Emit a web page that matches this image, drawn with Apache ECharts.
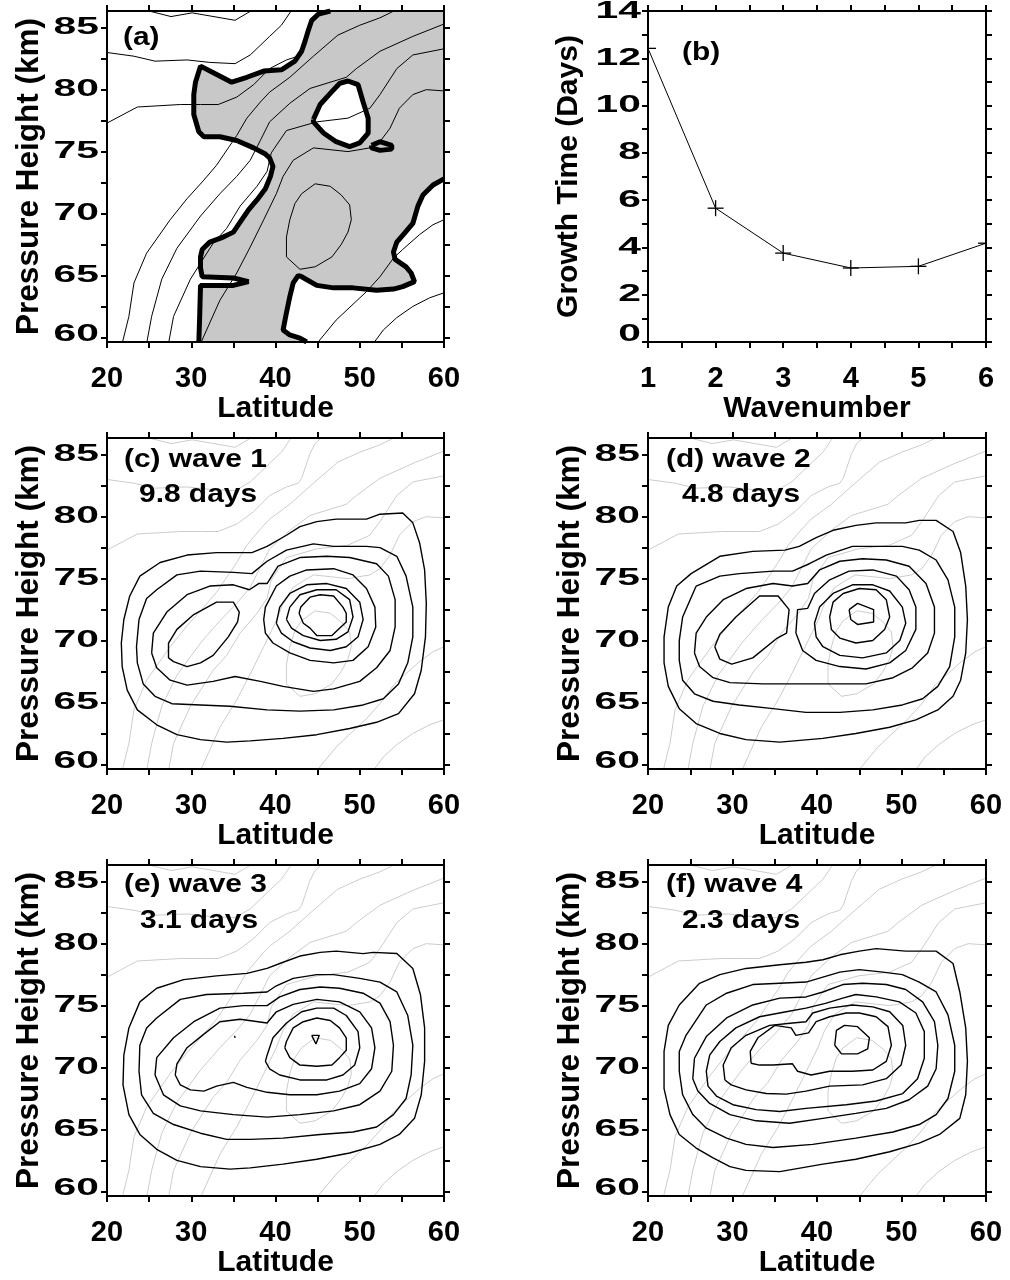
<!DOCTYPE html>
<html>
<head>
<meta charset="utf-8">
<script src="https://cdn.jsdelivr.net/npm/echarts@6/dist/echarts.min.js"></script>
<style>
html, body { margin: 0; padding: 0; background: #fff; }
#chart { width: 1010px; height: 1280px; }
</style>
</head>
<body>
<div id="chart"></div>
<script>
// ---- axis ticks and labels ----
const heightLabels = [60, 65, 70, 75, 80, 85];
const heightTicks = [60, 62.5, 65, 67.5, 70, 72.5, 75, 77.5, 80, 82.5, 85];
const growthLabels = [0, 2, 4, 6, 8, 10, 12, 14];

// ---- (b) growth time against wavenumber ----
const wavenumbers = [1, 2, 3, 4, 5, 6];
const growthDays = [12.42, 5.66, 3.76, 3.13, 3.20, 4.18];

// ---- background field contours [latitude, height] ----
const bg1 = [[24.7, 86.4], [27.6, 85.9], [30.1, 86.2], [35.2, 85.6], [37.2, 86.4]];
const bg2 = [[20, 83.0], [23.2, 82.7], [25.7, 82.3], [29.5, 82.4], [32.2, 82.2], [35.2, 82.1], [37.0, 82.8], [39.3, 84.3], [40.7, 85.2], [41.9, 86.4]];
const bg3 = [[20, 77.3], [23.6, 78.6], [28.7, 78.8], [31.1, 78.8], [33.2, 78.8], [35.4, 79.4], [37.4, 80.4], [39.3, 81.7], [41.3, 82.4], [42.7, 82.7], [43.1, 83.1], [43.5, 83.9], [44.1, 85.1], [44.7, 85.9], [45.5, 86.4]];
const bg4 = [[21.8, 59.5], [22.6, 61.7], [23.2, 64.4], [24.7, 66.8], [27.5, 69.5], [29.5, 71.2], [31.5, 72.7], [33.0, 73.9], [34.4, 75.3], [35.4, 76.3], [36.6, 77.7], [38.2, 79.0], [39.3, 79.8], [41.7, 81.0], [44.5, 82.7], [47.4, 84.4], [50.0, 85.2], [52.4, 85.8], [54.2, 86.4]];
const bg5 = [[24.7, 59.5], [25.3, 61.7], [26.5, 64.7], [28.3, 67.2], [31.1, 69.8], [33.4, 71.6], [35.4, 73.0], [37.0, 74.3], [38.2, 75.9], [39.3, 77.4], [41.7, 78.9], [44.1, 80.1], [48.4, 81.0], [49.6, 81.7], [52.4, 83.1], [56.3, 84.3], [60, 85.3]];
const bg6 = [[27.3, 59.5], [27.9, 61.7], [29.9, 64.7], [31.1, 66.0], [32.6, 67.6], [34.2, 68.8], [35.8, 70.6], [37.8, 72.2], [39.0, 73.4], [39.5, 74.9], [41.3, 76.7], [44.9, 77.4], [48.6, 77.7], [51.2, 78.5], [52.4, 79.6], [54.4, 81.7], [56.3, 82.8], [60, 83.3]];
const bg7 = [[31.1, 59.5], [33.4, 63.0], [35.4, 65.2], [37.0, 67.3], [38.6, 69.5], [40.1, 71.6], [40.9, 73.0], [42.1, 74.3], [44.5, 75.3], [48.6, 75.0], [51.2, 75.3], [52.4, 75.8], [53.6, 76.9], [54.7, 78.5], [56.3, 79.6], [57.9, 80.0], [60, 79.9]];
const bg8 = [[42.9, 65.5], [41.3, 66.5], [41.3, 68.1], [41.7, 69.5], [42.3, 70.8], [43.1, 71.6], [44.7, 72.4], [46.5, 72.2], [47.8, 71.5], [48.8, 70.7], [49.0, 69.5], [48.6, 68.5], [47.8, 67.5], [46.7, 66.5], [44.7, 65.7], [42.9, 65.5]];
const bg9 = [[44.9, 59.5], [47.2, 61.4], [50.8, 63.7], [52.4, 64.9], [54.0, 66.4], [55.1, 67.1], [57.1, 68.3], [58.7, 69.1], [60, 69.5]];
const bg10 = [[51.6, 59.5], [52.8, 60.6], [54.4, 61.6], [56.3, 62.5], [58.3, 63.2], [60, 63.6]];
const backgroundContours = [bg1, bg2, bg3, bg4, bg5, bg6, bg7, bg8, bg9, bg10];

// ---- (a) zero growth line: western branch (bottom to top) ----
const zeroWest = [[30.9, 59.63], [31.0, 61.7], [31.1, 64.2], [35.0, 64.2], [36.8, 64.5], [35.0, 64.8], [31.3, 64.9], [31.1, 65.6], [31.1, 66.5], [31.3, 67.1], [32.2, 67.7], [33.8, 68.1], [35.0, 68.5], [35.6, 69.1], [36.8, 70.3], [37.8, 71.1], [38.8, 72.0], [39.4, 73.0], [39.7, 73.8], [39.3, 74.5], [38.8, 74.8], [37.4, 75.3], [35.4, 75.9], [33.4, 76.2], [31.5, 76.2], [30.9, 76.6], [30.3, 78.0], [30.3, 79.6], [30.5, 80.6], [31.1, 81.9], [31.3, 82.0], [32.8, 81.3], [34.8, 80.6], [36.6, 81.0], [38.6, 81.5], [40.7, 81.6], [42.3, 82.3], [43.1, 83.1], [43.5, 83.9], [43.9, 84.8], [44.3, 85.6], [45.1, 86.1], [46.5, 86.35]];
// eastern branch (right edge to bottom)
const zeroEast = [[60, 72.8], [58.7, 72.3], [57.5, 71.5], [56.9, 70.6], [56.3, 69.2], [55.3, 68.4], [54.4, 67.7], [54.0, 66.9], [54.2, 66.3], [55.5, 65.7], [56.1, 65.2], [56.5, 64.5], [55.1, 64.1], [54.0, 63.9], [52.0, 63.8], [49.2, 64.0], [46.9, 64.0], [44.9, 64.2], [43.1, 64.9], [42.7, 65.0], [42.1, 64.4], [41.7, 63.3], [41.3, 62.0], [40.9, 60.6], [41.7, 60.2], [42.9, 59.95], [43.7, 59.63]];
const upperCorner = [[60, 86.35]];
const zeroHole = [[44.5, 77.6], [45.3, 78.8], [46.5, 79.7], [47.6, 80.5], [48.6, 80.7], [49.8, 80.4], [50.4, 79.0], [51.0, 77.7], [51.0, 76.5], [50.0, 75.7], [48.8, 75.4], [47.2, 75.8], [45.7, 76.5], [44.5, 77.4], [44.5, 77.6]];
const zeroSpot = [[51.4, 75.5], [52.4, 75.8], [53.8, 75.5], [53.8, 75.2], [52.4, 75.1], [51.4, 75.3], [51.4, 75.5]];

// ---- (c) wave 1 amplitude contours ----
const w1L1 = [[23.9, 75.2], [26.3, 76.3], [29.5, 76.9], [33.0, 77.1], [37.2, 77.1], [39.0, 77.6], [41.3, 78.5], [42.9, 79.2], [44.9, 79.6], [47.2, 79.8], [50.8, 79.8], [52.4, 80.2], [55.1, 80.3], [56.3, 79.5], [57.1, 77.9], [57.7, 75.7], [57.9, 73.0], [57.8, 70.3], [57.3, 67.6], [56.5, 65.7], [54.6, 64.1], [52.0, 63.4], [48.8, 62.9], [44.9, 62.4], [40.9, 62.1], [37.0, 61.9], [34.2, 61.8], [31.1, 62.0], [28.3, 62.4], [25.9, 63.2], [23.6, 64.4], [22.4, 66.0], [21.8, 67.9], [21.7, 69.8], [22.0, 71.7], [22.7, 73.6], [23.9, 75.2]];
const w1L2 = [[25.9, 74.1], [28.3, 75.3], [31.1, 75.6], [35.0, 75.5], [37.2, 75.4], [39.0, 76.4], [41.3, 77.3], [44.5, 77.8], [46.9, 77.6], [50.8, 77.6], [52.4, 77.5], [54.4, 76.8], [55.5, 75.2], [56.3, 72.7], [56.3, 70.3], [55.7, 68.2], [54.6, 66.5], [52.8, 65.3], [50.4, 64.8], [46.9, 64.4], [42.9, 64.3], [39.0, 64.4], [34.6, 64.7], [31.1, 64.8], [27.7, 64.9], [25.7, 65.5], [24.3, 66.5], [23.6, 68.2], [23.5, 69.5], [23.8, 71.7], [24.7, 73.4], [25.9, 74.1]];
const w1L3 = [[25.3, 69.0], [25.5, 70.6], [27.1, 72.3], [29.5, 73.7], [32.2, 74.4], [35.0, 74.5], [36.9, 74.1], [38.0, 74.6], [39.0, 74.6], [40.3, 76.0], [42.9, 76.7], [46.1, 76.8], [48.8, 76.7], [52.0, 76.2], [53.4, 75.2], [54.2, 73.3], [54.2, 71.1], [53.6, 69.2], [52.0, 67.8], [50.0, 66.7], [46.9, 66.1], [44.5, 65.9], [40.9, 66.3], [38.2, 66.7], [35.2, 67.1], [32.6, 66.7], [29.5, 66.4], [27.5, 66.8], [25.9, 67.8], [25.3, 69.0]];
const w1L4a = [[27.3, 68.6], [27.3, 69.8], [28.3, 70.9], [30.3, 72.1], [33.0, 73.1], [35.0, 73.1], [35.7, 72.3], [35.5, 71.5], [34.4, 70.3], [32.6, 68.8], [31.1, 68.2], [29.5, 67.9], [27.9, 68.3], [27.3, 68.6]];
const w1L4b = [[38.6, 71.7], [38.8, 72.7], [40.1, 74.4], [41.7, 75.2], [43.7, 75.7], [46.9, 75.8], [49.2, 75.3], [50.8, 74.2], [51.8, 72.7], [51.9, 71.1], [51.0, 69.5], [49.2, 68.4], [46.9, 68.2], [44.1, 68.4], [41.7, 69.0], [39.7, 69.8], [38.8, 70.6], [38.6, 71.7]];
const w1L5 = [[40.1, 71.4], [40.5, 72.7], [41.7, 73.8], [43.7, 74.5], [46.1, 74.6], [48.4, 74.2], [50.0, 73.1], [50.4, 71.7], [49.8, 70.3], [48.4, 69.5], [46.5, 69.2], [44.1, 69.4], [42.1, 69.9], [40.7, 70.6], [40.1, 71.4]];
const w1L6 = [[41.3, 71.7], [41.7, 72.7], [42.9, 73.7], [44.9, 74.1], [47.2, 74.1], [48.8, 73.3], [49.2, 71.9], [48.6, 70.7], [47.2, 70.1], [45.3, 70.0], [43.3, 70.4], [41.9, 71.0], [41.3, 71.7]];
const w1L7 = [[42.8, 72.2], [43.0, 72.7], [44.1, 73.5], [45.3, 73.7], [46.9, 73.6], [48.0, 72.7], [48.4, 72.2], [48.4, 71.5], [47.6, 71.0], [46.7, 70.4], [44.9, 70.4], [44.1, 71.0], [43.3, 71.4], [42.8, 72.2]];

// ---- (d) wave 2 amplitude contours ----
const w2L1 = [[25.1, 75.4], [28.5, 76.8], [32.4, 77.2], [36.2, 77.3], [37.9, 77.6], [39.9, 78.3], [41.9, 78.9], [44.6, 79.3], [47.0, 79.5], [50.5, 79.5], [52.1, 79.7], [54.1, 79.7], [56.1, 78.8], [57.0, 77.1], [57.6, 74.4], [57.8, 71.7], [57.6, 69.0], [57.0, 66.8], [56.1, 65.5], [54.3, 64.4], [51.7, 63.6], [48.6, 63.0], [44.6, 62.5], [40.7, 62.1], [35.6, 61.8], [31.6, 62.0], [28.5, 62.5], [25.7, 63.3], [23.7, 64.5], [22.4, 66.3], [21.9, 68.2], [21.9, 70.3], [22.4, 72.7], [23.4, 74.4], [25.1, 75.4]];
const w2L2 = [[25.7, 74.4], [28.5, 75.2], [30.8, 75.4], [34.8, 75.6], [37.1, 75.6], [39.1, 76.2], [41.1, 76.9], [44.2, 77.6], [46.6, 77.6], [50.1, 77.6], [52.1, 77.3], [54.1, 76.5], [55.5, 74.9], [56.3, 72.7], [56.3, 70.3], [55.7, 67.9], [54.3, 66.3], [52.5, 65.3], [50.1, 64.8], [46.6, 64.4], [42.7, 64.2], [38.7, 64.2], [34.8, 64.5], [30.8, 64.8], [27.7, 65.1], [25.5, 65.7], [24.1, 66.8], [23.7, 68.4], [23.7, 70.0], [24.1, 71.9], [25.7, 74.4]];
const w2L3 = [[25.5, 69.0], [25.7, 70.6], [26.9, 71.9], [28.9, 73.3], [31.6, 74.2], [34.8, 74.6], [37.1, 74.4], [38.9, 74.6], [40.3, 75.7], [42.7, 76.4], [45.4, 76.6], [48.2, 76.5], [50.9, 76.0], [52.9, 74.6], [53.9, 72.7], [53.9, 70.6], [53.1, 69.0], [51.3, 67.8], [49.0, 67.0], [45.8, 66.5], [41.9, 66.5], [37.9, 66.5], [33.6, 66.5], [29.7, 66.6], [27.7, 67.0], [26.1, 67.9], [25.5, 69.0]];
const w2L4a = [[27.9, 69.5], [28.5, 70.5], [30.4, 71.9], [33.2, 73.6], [35.4, 73.6], [36.7, 72.5], [36.4, 70.6], [35.3, 70.2], [32.4, 68.6], [29.9, 68.1], [28.5, 68.5], [27.9, 69.5]];
const w2L4b = [[37.5, 70.6], [37.7, 72.5], [38.9, 72.6], [39.7, 73.8], [41.5, 74.9], [43.8, 75.6], [46.6, 75.7], [49.4, 75.2], [50.9, 74.1], [51.7, 72.7], [51.7, 70.9], [50.5, 69.2], [48.6, 68.2], [45.8, 67.7], [42.7, 67.9], [39.9, 68.4], [38.3, 69.2], [37.5, 70.6]];
const w2L5 = [[39.7, 71.4], [40.3, 72.7], [41.9, 73.8], [44.2, 74.5], [46.6, 74.5], [48.6, 74.0], [50.1, 72.7], [50.5, 71.4], [49.8, 70.0], [48.2, 69.0], [45.4, 68.6], [42.7, 68.8], [40.7, 69.5], [39.9, 70.3], [39.7, 71.4]];
const w2L6 = [[41.5, 71.9], [41.9, 73.1], [43.1, 73.8], [45.0, 74.2], [47.0, 74.1], [48.2, 73.3], [48.6, 71.9], [48.0, 70.9], [46.6, 70.0], [44.6, 69.8], [42.7, 70.2], [41.7, 70.9], [41.5, 71.9]];
const w2L7 = [[43.8, 72.5], [44.8, 73.0], [46.7, 72.5], [46.7, 71.5], [44.8, 71.3], [44.0, 71.7], [43.8, 72.5]];

// ---- (e) wave 3 amplitude contours ----
const w3L1 = [[23.9, 75.3], [25.9, 76.4], [29.1, 77.1], [33.0, 77.4], [36.6, 77.6], [39.0, 78.0], [40.9, 78.5], [42.9, 79.0], [45.3, 79.3], [47.2, 79.4], [50.4, 79.2], [51.6, 79.3], [54.4, 79.2], [56.3, 78.0], [57.2, 75.9], [57.7, 73.2], [57.7, 70.5], [57.3, 67.8], [56.5, 65.9], [54.7, 64.6], [52.4, 63.8], [48.8, 63.1], [44.9, 62.6], [40.9, 62.2], [37.0, 61.9], [34.6, 61.8], [31.1, 62.0], [28.3, 62.5], [25.9, 63.4], [23.9, 64.6], [22.6, 66.2], [21.9, 68.6], [22.0, 71.0], [22.6, 73.2], [23.9, 75.3]];
const w3L2 = [[25.9, 74.0], [28.7, 75.5], [31.8, 75.9], [36.2, 76.0], [39.0, 76.1], [40.1, 76.6], [42.1, 77.2], [44.9, 77.5], [46.9, 77.5], [50.0, 77.2], [52.4, 76.9], [54.4, 76.1], [55.7, 74.2], [56.3, 71.8], [56.1, 69.4], [55.5, 67.5], [54.0, 66.2], [52.0, 65.2], [49.2, 64.8], [45.3, 64.6], [40.9, 64.3], [37.0, 64.2], [34.2, 64.2], [31.1, 64.7], [27.9, 65.4], [25.5, 66.3], [24.1, 67.8], [23.8, 69.7], [23.9, 71.8], [24.7, 73.2], [25.9, 74.0]];
const w3L3 = [[25.7, 69.4], [25.9, 70.8], [27.9, 72.4], [30.3, 73.7], [33.4, 74.8], [36.2, 75.0], [39.0, 75.0], [40.5, 75.7], [42.9, 76.3], [45.3, 76.5], [47.6, 76.4], [50.4, 76.0], [52.4, 75.2], [53.6, 73.7], [54.0, 71.8], [53.8, 69.7], [52.4, 68.1], [50.0, 67.0], [46.9, 66.5], [42.9, 66.2], [39.0, 66.0], [35.0, 66.2], [31.1, 66.5], [28.7, 66.9], [26.7, 67.8], [25.7, 69.4]];
const w3L4 = [[28.1, 69.4], [28.3, 70.3], [29.5, 71.6], [31.5, 72.7], [33.4, 73.7], [35.8, 73.9], [39.0, 73.6], [40.1, 74.5], [42.1, 75.1], [44.9, 75.5], [47.6, 75.3], [50.0, 74.5], [51.4, 73.2], [51.8, 71.6], [51.4, 69.9], [50.0, 68.7], [47.6, 68.1], [44.9, 67.8], [41.7, 67.8], [39.0, 68.0], [36.6, 68.4], [35.0, 68.8], [33.0, 68.5], [31.5, 68.1], [29.9, 68.2], [28.7, 68.6], [28.1, 69.4]];
const w3L5 = [[38.8, 70.5], [39.0, 71.0], [39.7, 72.4], [41.3, 73.6], [43.1, 74.5], [44.9, 74.8], [46.9, 74.8], [48.4, 74.2], [49.8, 72.9], [50.0, 71.6], [49.4, 70.2], [48.0, 69.4], [46.1, 69.0], [42.9, 69.0], [40.5, 69.4], [39.3, 69.9], [38.8, 70.5]];
const w3L6 = [[41.1, 71.6], [41.3, 72.1], [42.1, 73.2], [43.3, 73.7], [44.9, 74.0], [46.5, 73.8], [47.6, 73.2], [48.4, 72.4], [48.4, 71.4], [47.6, 70.8], [46.7, 70.2], [44.9, 70.1], [42.9, 70.2], [41.7, 70.8], [41.1, 71.6]];
const w3L7 = [[44.3, 72.6], [45.2, 72.6], [44.8, 71.9], [44.3, 72.6]];
const w3L5b = [[35.15, 72.55], [35.3, 72.5], [35.2, 72.4], [35.15, 72.55]];

// ---- (f) wave 4 amplitude contours ----
const w4L1 = [[23.7, 75.05], [26.1, 76.8], [28.5, 77.5], [31.6, 78.0], [35.6, 78.3], [38.7, 78.5], [40.7, 78.7], [42.7, 79.1], [45.0, 79.4], [47.0, 79.6], [50.5, 79.4], [54.1, 79.4], [56.1, 78.4], [56.9, 76.1], [57.6, 73.2], [57.8, 70.5], [57.6, 67.8], [56.9, 65.9], [54.5, 64.6], [52.1, 63.9], [48.6, 63.2], [44.6, 62.6], [40.7, 62.2], [35.6, 61.6], [31.6, 61.7], [29.7, 62.0], [27.7, 62.7], [25.7, 63.5], [23.7, 64.6], [22.6, 66.2], [21.9, 68.3], [21.9, 71.3], [22.4, 73.4], [23.7, 75.05]];
const w4L2 = [[24.5, 72.6], [26.9, 75.05], [29.3, 76.0], [32.4, 76.7], [35.6, 76.8], [38.7, 76.9], [40.7, 77.3], [42.7, 77.7], [45.0, 77.9], [47.8, 77.7], [50.1, 77.5], [52.1, 76.9], [54.1, 76.1], [55.5, 74.25], [56.3, 71.8], [56.3, 69.7], [55.5, 67.5], [54.1, 66.2], [52.1, 65.4], [49.0, 64.8], [44.6, 64.3], [39.5, 63.8], [34.8, 63.55], [31.6, 63.8], [29.3, 64.3], [26.9, 65.1], [25.3, 66.2], [24.1, 67.8], [23.7, 69.7], [23.7, 71.3], [24.5, 72.6]];
const w4L3 = [[25.3, 69.1], [25.5, 70.75], [26.9, 72.5], [29.3, 74.0], [32.4, 75.05], [35.6, 75.6], [38.7, 75.7], [40.7, 76.1], [43.05, 76.7], [45.4, 76.8], [48.2, 76.7], [50.5, 76.3], [52.5, 75.3], [53.9, 73.7], [54.3, 71.8], [54.1, 69.9], [53.1, 68.5], [50.9, 67.4], [48.2, 66.7], [44.6, 66.3], [40.7, 65.9], [36.75, 65.5], [32.8, 65.7], [29.7, 66.2], [27.3, 67.1], [25.9, 68.1], [25.3, 69.1]];
const w4L4 = [[27.1, 68.5], [26.9, 69.7], [27.3, 71.0], [28.5, 72.1], [30.4, 73.2], [33.2, 74.1], [36.35, 74.5], [38.7, 74.8], [41.1, 75.2], [43.05, 75.6], [44.6, 75.9], [47.0, 75.7], [49.75, 75.3], [51.7, 74.4], [52.7, 72.9], [52.7, 70.75], [51.9, 69.1], [50.15, 67.9], [47.0, 67.3], [43.45, 67.0], [38.7, 66.7], [35.6, 66.45], [32.8, 66.6], [30.05, 67.0], [28.1, 67.7], [27.1, 68.5]];
const w4L5 = [[29.1, 69.0], [28.9, 70.2], [29.85, 71.6], [31.6, 72.6], [34.4, 73.4], [37.1, 73.6], [38.7, 73.7], [39.5, 74.4], [41.5, 74.8], [44.2, 75.05], [46.6, 74.9], [48.6, 74.5], [50.15, 73.4], [50.5, 71.8], [49.95, 70.2], [48.2, 69.1], [45.4, 68.6], [41.5, 68.5], [38.7, 68.1], [36.35, 67.85], [34.0, 67.9], [31.6, 68.2], [29.85, 68.6], [29.1, 69.0]];
const w4L6 = [[32.2, 70.35], [32.1, 71.3], [33.0, 72.4], [35.0, 73.4], [36.95, 73.2], [37.5, 72.6], [39.0, 72.8], [39.9, 73.7], [41.5, 74.1], [43.45, 74.4], [45.0, 74.4], [47.0, 74.1], [48.4, 73.3], [48.8, 71.8], [48.2, 70.5], [46.6, 69.8], [44.2, 69.7], [41.5, 69.7], [39.3, 69.4], [37.7, 69.7], [37.1, 70.3], [34.8, 70.2], [33.2, 70.2], [32.2, 70.35]];
const w4L7 = [[42.1, 71.8], [42.3, 73.0], [43.25, 73.4], [44.8, 73.3], [46.2, 72.4], [46.0, 71.5], [44.8, 71.1], [42.9, 71.1], [42.1, 71.8]];

const wave1Contours = [w1L1, w1L2, w1L3, w1L4a, w1L4b, w1L5, w1L6, w1L7];
const wave2Contours = [w2L1, w2L2, w2L3, w2L4a, w2L4b, w2L5, w2L6, w2L7];
const wave3Contours = [w3L1, w3L2, w3L3, w3L4, w3L5, w3L6, w3L7, w3L5b];
const wave4Contours = [w4L1, w4L2, w4L3, w4L4, w4L5, w4L6, w4L7];

// ---- layout ----
const FONT = 'Liberation Sans';
const grids = [
  { left: 107, top: 11, width: 337, height: 331 },
  { left: 648, top: 11, width: 338, height: 331 },
  { left: 107, top: 438, width: 337, height: 331 },
  { left: 648, top: 438, width: 338, height: 331 },
  { left: 107, top: 865, width: 337, height: 331 },
  { left: 648, top: 865, width: 338, height: 331 }
];

const AX_LINE = { show: true, onZero: false, lineStyle: { color: '#000', width: 2 } };
const TICK = { show: true, inside: false, length: 6, lineStyle: { color: '#000', width: 2 } };
const tickLabel = { color: '#000', fontFamily: FONT, fontWeight: 'bold', fontSize: 29, margin: 22 };
const nameStyle = { color: '#000', fontFamily: FONT, fontWeight: 'bold', fontSize: 30 };

const xAxes = [];
const yAxes = [];

function latAxes(g) {
  xAxes.push({
    gridIndex: g, type: 'value', position: 'bottom', min: 20, max: 60, interval: 5, z: 10,
    axisLine: AX_LINE, axisTick: TICK, splitLine: { show: false },
    axisLabel: Object.assign({ formatter: v => (v % 10 === 0 ? String(v) : '') }, tickLabel),
    name: 'Latitude', nameLocation: 'middle', nameGap: 47, nameTextStyle: nameStyle
  });
  xAxes.push({
    gridIndex: g, type: 'value', position: 'top', min: 20, max: 60, interval: 5, z: 10,
    axisLine: AX_LINE, axisTick: TICK, axisLabel: { show: false }, splitLine: { show: false }
  });
  yAxes.push({
    gridIndex: g, type: 'value', position: 'left', min: 59.63, max: 86.35, z: 10,
    axisLine: AX_LINE, axisTick: Object.assign({ customValues: heightTicks }, TICK), splitLine: { show: false },
    axisLabel: { show: false },
    name: 'Pressure Height (km)', nameLocation: 'middle', nameGap: 62,
    nameTextStyle: Object.assign({}, nameStyle, { fontSize: 31.5 })
  });
  yAxes.push({
    gridIndex: g, type: 'value', position: 'right', min: 59.63, max: 86.35, z: 10,
    axisLine: AX_LINE, axisTick: Object.assign({ customValues: heightTicks }, TICK),
    axisLabel: { show: false }, splitLine: { show: false }
  });
}

// panel (a)
latAxes(0);
// panel (b)
xAxes.push({
  gridIndex: 1, type: 'value', position: 'bottom', min: 1, max: 6, interval: 0.5, z: 10,
  axisLine: AX_LINE, axisTick: TICK, splitLine: { show: false },
  axisLabel: Object.assign({ formatter: v => (Number.isInteger(v) ? String(v) : '') }, tickLabel),
  name: 'Wavenumber', nameLocation: 'middle', nameGap: 47, nameTextStyle: nameStyle
});
xAxes.push({
  gridIndex: 1, type: 'value', position: 'top', min: 1, max: 6, interval: 0.5, z: 10,
  axisLine: AX_LINE, axisTick: TICK, axisLabel: { show: false }, splitLine: { show: false }
});
yAxes.push({
  gridIndex: 1, type: 'value', position: 'left', min: 0, max: 14, interval: 1, z: 10,
  axisLine: AX_LINE, axisTick: TICK, splitLine: { show: false },
  axisLabel: { show: false },
  name: 'Growth Time (Days)', nameLocation: 'middle', nameGap: 64, nameTextStyle: nameStyle
});
yAxes.push({
  gridIndex: 1, type: 'value', position: 'right', min: 0, max: 14, interval: 1, z: 10,
  axisLine: AX_LINE, axisTick: TICK, axisLabel: { show: false }, splitLine: { show: false }
});
// panels (c)-(f)
for (let g = 2; g < 6; g++) latAxes(g);

const series = [];

function contourLine(g, pts, color, width, z) {
  series.push({
    type: 'line', xAxisIndex: 2 * g, yAxisIndex: 2 * g, data: pts,
    showSymbol: false, symbol: 'none', silent: true, clip: true, z: z,
    lineStyle: { color: color, width: width }, animation: false
  });
}

function polygonFill(g, pts, fill, z) {
  series.push({
    type: 'custom', xAxisIndex: 2 * g, yAxisIndex: 2 * g, data: [0], silent: true, z: z,
    renderItem: (params, api) => ({
      type: 'polygon',
      shape: { points: pts.map(p => api.coord(p)) },
      style: { fill: fill, stroke: null }
    }),
    animation: false
  });
}

// (a) shaded region of positive growth
polygonFill(0, zeroWest.concat(upperCorner, zeroEast), '#c8c8c8', 1);
polygonFill(0, zeroHole, '#ffffff', 2);
backgroundContours.forEach(c => contourLine(0, c, '#000', 1, 3));
contourLine(0, zeroWest, '#000', 5, 4);
contourLine(0, zeroEast, '#000', 5, 4);
contourLine(0, zeroHole, '#000', 5, 4);
contourLine(0, zeroSpot, '#000', 5, 4);

// (b) growth time
const growthPoints = wavenumbers.map((w, i) => [w, growthDays[i]]);
series.push({
  type: 'line', xAxisIndex: 2, yAxisIndex: 2, data: growthPoints,
  showSymbol: false, symbol: 'none', lineStyle: { color: '#000', width: 1 }, silent: true, animation: false
});
series.push({
  type: 'custom', xAxisIndex: 2, yAxisIndex: 2, data: growthPoints,
  silent: true, z: 5, animation: false,
  renderItem: (params, api) => {
    const p = api.coord([api.value(0), api.value(1)]);
    const cs = params.coordSys;
    const h = 8;
    const x0 = Math.max(cs.x, p[0] - h), x1 = Math.min(cs.x + cs.width, p[0] + h);
    const y0 = Math.max(cs.y, p[1] - h), y1 = Math.min(cs.y + cs.height, p[1] + h);
    const st = { stroke: '#000', lineWidth: 1.3 };
    return {
      type: 'group',
      children: [
        { type: 'line', shape: { x1: x0, y1: p[1], x2: x1, y2: p[1] }, style: st },
        { type: 'line', shape: { x1: p[0], y1: y0, x2: p[0], y2: y1 }, style: st }
      ]
    };
  }
});

// (c)-(f) amplitude over the background field
[wave1Contours, wave2Contours, wave3Contours, wave4Contours].forEach((set, k) => {
  const g = k + 2;
  backgroundContours.forEach(c => contourLine(g, c, '#cccccc', 1, 2));
  set.forEach(c => contourLine(g, c, '#000', 1.4, 3));
});

// panel captions (left edge, vertical middle)
const captions = [
  { x: 123, y: 38, text: '(a)' },
  { x: 682, y: 53, text: '(b)' },
  { x: 124, y: 460, text: '(c) wave 1' },
  { x: 139, y: 495, text: '9.8 days' },
  { x: 666, y: 460, text: '(d) wave 2' },
  { x: 682, y: 495, text: '4.8 days' },
  { x: 124, y: 885, text: '(e) wave 3' },
  { x: 140, y: 921, text: '3.1 days' },
  { x: 666, y: 885, text: '(f) wave 4' },
  { x: 682, y: 921, text: '2.3 days' }
];

const chart = echarts.init(document.getElementById('chart'), null, { renderer: 'canvas' });
chart.setOption({
  animation: false,
  backgroundColor: '#fff',
  grid: grids.map(g => Object.assign({ outerBoundsMode: 'none', containLabel: false }, g)),
  xAxis: xAxes,
  yAxis: yAxes,
  series: series
});

// vertical-axis tick labels, set in a wide bold face next to each left axis
const graphics = captions.map(c => ({
  type: 'text', x: c.x, y: c.y, scaleX: 1.15, z: 20,
  style: { text: c.text, fill: '#000', font: 'bold 26px "Liberation Sans"', textAlign: 'left', textVerticalAlign: 'middle' }
}));
const leftLabelSets = [
  { g: 0, values: heightLabels, gap: 8 },
  { g: 1, values: growthLabels, gap: 7 },
  { g: 2, values: heightLabels, gap: 8 },
  { g: 3, values: heightLabels, gap: 8 },
  { g: 4, values: heightLabels, gap: 8 },
  { g: 5, values: heightLabels, gap: 8 }
];
leftLabelSets.forEach(s => {
  const lowest = s.values[0];
  s.values.forEach(v => {
    const py = chart.convertToPixel({ yAxisIndex: 2 * s.g }, v);
    const lift = v === lowest ? (s.g === 1 ? 8 : 3) : 0;
    graphics.push({
      type: 'text', x: grids[s.g].left - s.gap, y: py - lift, scaleX: 1.7, z: 20,
      style: { text: String(v), fill: '#000', font: 'bold 24px "Liberation Sans"', textAlign: 'right', textVerticalAlign: 'middle' }
    });
  });
});
chart.setOption({ graphic: graphics });
</script>
</body>
</html>
